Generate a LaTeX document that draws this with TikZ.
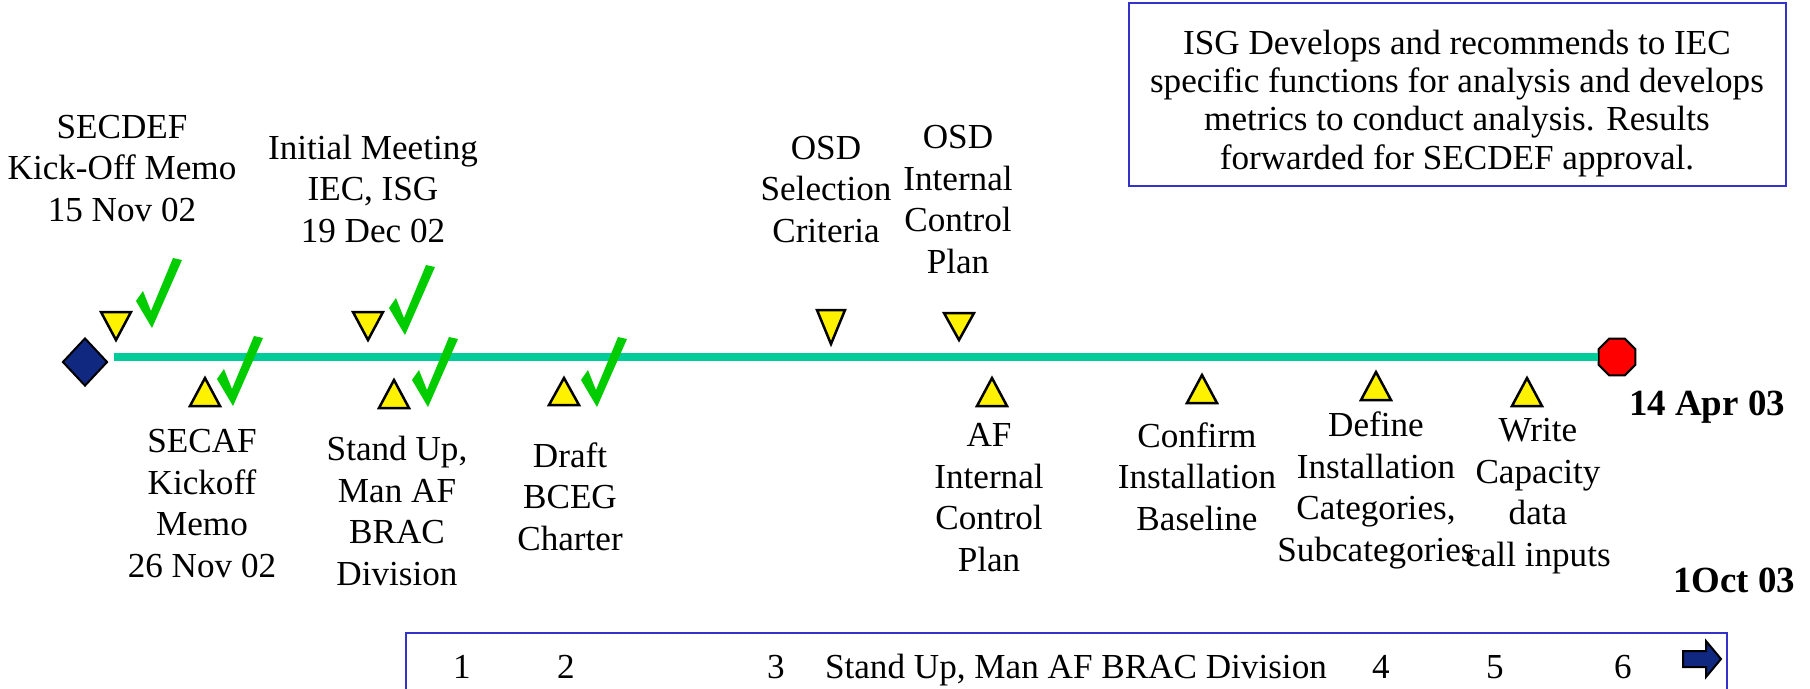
\documentclass[tikz,border=0pt]{standalone}
\usepackage{fontspec}
\setmainfont{Liberation Serif}
\usetikzlibrary{shapes.geometric,calc}
\definecolor{bandgreen}{RGB}{0,204,153}
\definecolor{checkgreen}{RGB}{0,204,0}
\definecolor{startblue}{RGB}{16,40,128}
\definecolor{frameblue}{RGB}{51,51,204}
\newcommand{\markthick}{0.25mm}
\newcommand{\donemark}[1]{\fill[checkgreen] (#1) -- ++(-16,-27) -- ++(7,-10) -- ++(8,20) -- ++(22,-53) -- ++(9,2) -- cycle;}
\tikzset{
  label text/.style={align=center, anchor=base, inner sep=0pt, font=\fontsize{10}{11.8}\selectfont},
  date text/.style={anchor=base, inner sep=0pt, font=\fontsize{10.5}{12}\selectfont\bfseries},
  milestone/.style={fill=yellow, draw=black, line width=\markthick},
  notebox/.style={draw=frameblue, line width=0.2mm},
}

\begin{document}
\begin{tikzpicture}[x=0.1mm, y=-0.1mm]
\useasboundingbox (0,0) rectangle (1810,688);
\node[diamond, draw=black, fill=startblue, minimum width=4.5mm, minimum height=4.8mm, inner sep=0pt, line width=0.2mm] (start) at (85,362) {};
\node[regular polygon, regular polygon sides=8, draw=black, fill=red, minimum size=4.0mm, inner sep=0pt, line width=0.2mm] (stop) at (1617,357) {};
\draw[bandgreen, line width=0.8mm] ($(start.east)+(5,-5)$) -- (stop.west);
%down marks
\filldraw[milestone] (101,312) -- (131,312) -- (116,340) -- cycle;
\filldraw[milestone] (353,312) -- (383,312) -- (368,340) -- cycle;
\filldraw[milestone] (817,310) -- (845,310) -- (831,344) -- cycle;
\filldraw[milestone] (944,313) -- (974,313) -- (959,340) -- cycle;
%up marks
\filldraw[milestone] (205,378) -- (220,406) -- (190,406) -- cycle;
\filldraw[milestone] (394,380) -- (409,408) -- (379,408) -- cycle;
\filldraw[milestone] (564,378) -- (579,405) -- (549,405) -- cycle;
\filldraw[milestone] (992,378) -- (1007,406) -- (977,406) -- cycle;
\filldraw[milestone] (1202,375) -- (1217,403) -- (1187,403) -- cycle;
\filldraw[milestone] (1376,372) -- (1391,400) -- (1361,400) -- cycle;
\filldraw[milestone] (1527,378) -- (1542,406) -- (1512,406) -- cycle;
%done
\donemark{152,328}
\donemark{405,335}
\donemark{233,406}
\donemark{428,407}
\donemark{597,407}
%above the line (base = last line)
\node[label text] (secdef) at (122,221) {SECDEF\\Kick-Off Memo\\15 Nov 02};
\node[label text] (meeting) at (373,242) {Initial Meeting\\IEC, ISG\\19 Dec 02};
\node[label text] (osdcrit) at (826,242) {OSD\\Selection\\Criteria};
\node[label text] (osdplan) at (958,273) {OSD\\Internal\\Control\\Plan};
%below the line
\node[label text] (secaf) at (202,577) {SECAF\\Kickoff\\Memo\\26 Nov 02};
\node[label text] (standup) at (397,585) {Stand Up,\\Man AF\\BRAC\\Division};
\node[label text] (draft) at (570,550) {Draft\\BCEG\\Charter};
\node[label text] (afplan) at (989,571) {AF\\Internal\\Control\\Plan};
\node[label text] (confirm) at (1197,530) {Confirm\\Installation\\Baseline};
\node[label text] (define) at (1376,561) {Define\\Installation\\Categories,\\Subcategories};
\node[label text] (write) at (1538,566) {Write\\Capacity\\data\\call inputs};
\node[date text] (apr) at (1707,415) {14 Apr 03};
\node[date text] (oct) at (1734,592) {1Oct 03};
%note
\draw[notebox] (1129,3) rectangle (1786,186);
\node[label text, font=\fontsize{10}{10.9}\selectfont] (isgnote) at (1457,169) {ISG Develops and recommends to IEC\\specific functions for analysis and develops\\metrics to conduct analysis. Results\\forwarded for SECDEF approval.};
%bar
\draw[notebox] (406,700) -- (406,633) -- (1727,633) -- (1727,700);
\node[label text] (n1) at (462,678) {1};
\node[label text] (n2) at (566,678) {2};
\node[label text] (n3) at (776,678) {3};
\node[label text] (barlabel) at (1076,678) {Stand Up, Man AF BRAC Division};
\node[label text] (n4) at (1381,678) {4};
\node[label text] (n5) at (1495,678) {5};
\node[label text] (n6) at (1623,678) {6};
\filldraw[fill=startblue, draw=black, line width=0.2mm] (1683,651) -- (1706,651) -- (1706,641) -- (1721,659) -- (1706,677) -- (1706,667) -- (1683,667) -- cycle;
\end{tikzpicture}
\end{document}
